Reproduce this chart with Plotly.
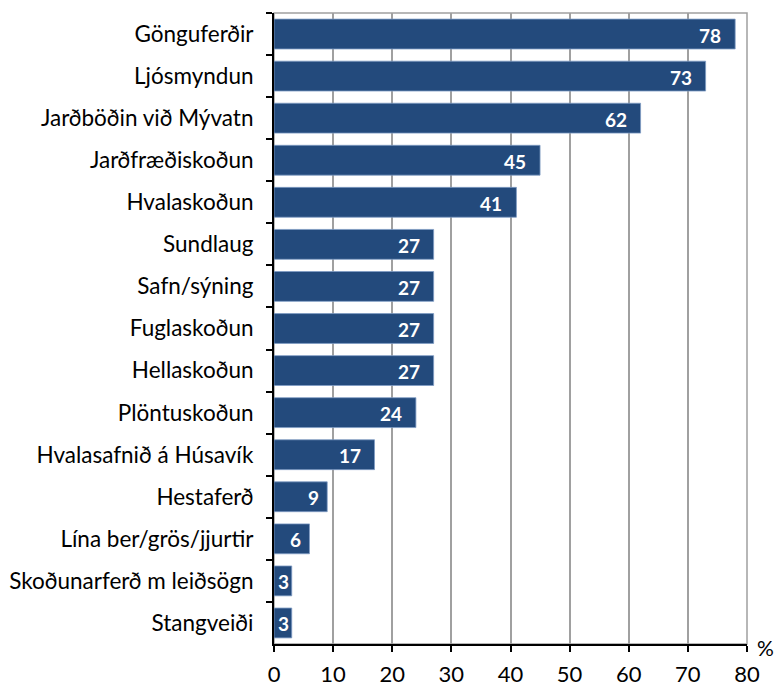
import plotly.graph_objects as go

categories = ["Gönguferðir", "Ljósmyndun", "Jarðböðin við Mývatn", "Jarðfræðiskoðun",
              "Hvalaskoðun", "Sundlaug", "Safn/sýning", "Fuglaskoðun", "Hellaskoðun",
              "Plöntuskoðun", "Hvalasafnið á Húsavík", "Hestaferð", "Lína ber/grös/jjurtir",
              "Skoðunarferð m leiðsögn", "Stangveiði"]
values = [78, 73, 62, 45, 41, 27, 27, 27, 27, 24, 17, 9, 6, 3, 3]
x_ticks = [0, 10, 20, 30, 40, 50, 60, 70, 80]

FONT = "Lato, Open Sans, sans-serif"

fig = go.Figure(go.Bar(
    x=values, y=categories, orientation="h",
    marker=dict(color="#234A7C", line=dict(color="#7F9CC4", width=0.8)),
    hoverinfo="x+y",
))

# value labels inside the bar end
annotations = []
for c, v in zip(categories, values):
    pad = 12 if v >= 10 else (6 if v >= 6 else 1)
    annotations.append(dict(x=v, y=c, xref="x", yref="y", text=str(v), showarrow=False,
                            xanchor="right", yanchor="middle", xshift=-pad, yshift=-1,
                            font=dict(color="white", size=19, family=FONT, weight="bold")))

annotations.append(dict(text="%", xref="paper", yref="paper", x=1.0, y=0, xanchor="left",
                        yanchor="middle", xshift=8, yshift=-3, showarrow=False,
                        font=dict(size=21)))

fig.update_layout(
    width=774, height=686,
    margin=dict(l=274, r=27, t=13, b=42),
    paper_bgcolor="white", plot_bgcolor="white",
    bargap=0.29, showlegend=False,
    font=dict(family=FONT, size=22.5, color="black"),
    xaxis=dict(range=[0, 80], tickvals=x_ticks, showgrid=True, gridcolor="#A0A0A0",
               gridwidth=1.5, showline=True, linecolor="black", linewidth=2,
               ticks="outside", ticklen=6, tickwidth=1.5, tickcolor="black",
               tickfont=dict(size=22), zeroline=False, automargin=False,
               ticklabelstandoff=4),
    yaxis=dict(autorange="reversed", showline=True, linecolor="black", linewidth=2,
               ticks="outside", ticklen=6, tickwidth=1.5, tickcolor="black",
               tickson="boundaries", showgrid=False, tickfont=dict(size=22.5),
               ticklabelstandoff=14, automargin=False),
    shapes=[dict(type="rect", xref="paper", yref="paper", x0=0, x1=1, y0=0, y1=1,
                 line=dict(color="#A0A0A0", width=1.5), layer="below")],
    annotations=annotations,
)

post = """
document.body.style.margin='0';
document.body.style.overflow='hidden';
document.documentElement.style.overflow='hidden';
Plotly.relayout(document.getElementById('{plot_id}'), {width: 774, height: 686});
"""

fig.write_html("out.html", post_script=post, config={"displayModeBar": False})
